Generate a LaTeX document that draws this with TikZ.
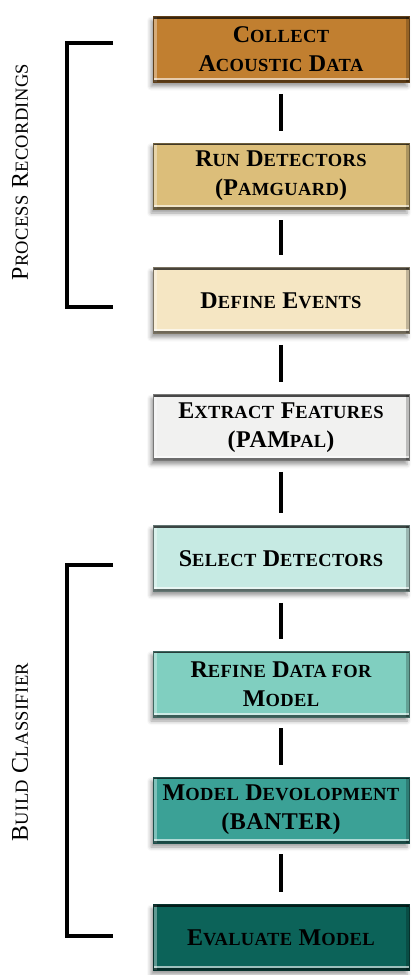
\documentclass[tikz,border=0pt]{standalone}
\usepackage{fontspec}
\setmainfont{Liberation Serif}[LetterSpace=2]
\usetikzlibrary{shadows.blur}

% step colours, top to bottom
\definecolor{cCollect}{HTML}{C17F30}
\definecolor{cRun}{HTML}{DCBE7A}
\definecolor{cDefine}{HTML}{F5E6C3}
\definecolor{cExtract}{HTML}{F1F1F0}
\definecolor{cSelect}{HTML}{C6EAE3}
\definecolor{cRefine}{HTML}{80CFC0}
\definecolor{cModel}{HTML}{3BA196}
\definecolor{cEvaluate}{HTML}{0C6359}

\newcommand\boxfont{\fontsize{24}{29}\selectfont}
\newcommand\smc[1]{{\fontsize{18.5}{29}\selectfont #1}}

\tikzset{
  stepbox/.style={
    rectangle, minimum width=256pt, minimum height=66pt, inner sep=0pt,
    fill=#1, draw=#1!50!black, line width=0.8pt,
    blur shadow={shadow xshift=-2pt, shadow yshift=-4pt, shadow blur radius=4pt},
    align=center, font=\boxfont\bfseries, text=black,
    path picture={
      \fill[white,opacity=0.35] (path picture bounding box.north west)
        rectangle ([xshift=4pt]path picture bounding box.south west);
      \fill[black,opacity=0.22] (path picture bounding box.north east)
        rectangle ([xshift=-3pt]path picture bounding box.south east);
      \fill[black,opacity=0.7] (path picture bounding box.north west)
        rectangle ([yshift=-2pt]path picture bounding box.north east);
      \fill[black,opacity=0.55] ([yshift=2.5pt]path picture bounding box.south west)
        rectangle (path picture bounding box.south east);
      \fill[white,opacity=0.6] ([yshift=2.5pt]path picture bounding box.south west)
        rectangle ([yshift=4.5pt]path picture bounding box.south east);
    }},
  link/.style={line width=4pt, shorten <=11pt, shorten >=12pt},
  bracket/.style={line width=3.5pt},
  grouplabel/.style={rotate=90, font=\boxfont, inner sep=0pt}
}

\begin{document}
\begin{tikzpicture}[x=1pt,y=-1pt]
  \useasboundingbox (0,0) rectangle (412,975);

  % workflow steps
  \node[stepbox=cCollect]  (collect)  at (281,49.5)  {C\smc{OLLECT}\\A\smc{COUSTIC} D\smc{ATA}};
  \node[stepbox=cRun]      (run)      at (281,176)   {R\smc{UN} D\smc{ETECTORS}\\(P\smc{AMGUARD})};
  \node[stepbox=cDefine]   (define)   at (281,300.5) {D\smc{EFINE} E\smc{VENTS}};
  \node[stepbox=cExtract]  (extract)  at (281,427.5) {E\smc{XTRACT} F\smc{EATURES}\\(PAM\smc{PAL})};
  \node[stepbox=cSelect]   (select)   at (281,558.5) {S\smc{ELECT} D\smc{ETECTORS}};
  \node[stepbox=cRefine]   (refine)   at (281,684)   {R\smc{EFINE} D\smc{ATA FOR}\\M\smc{ODEL}};
  \node[stepbox=cModel]    (model)    at (281,810)   {M\smc{ODEL} D\smc{EVOLOPMENT}\\(BANTER)};
  \node[stepbox=cEvaluate] (evaluate) at (281,937.5) {E\smc{VALUATE} M\smc{ODEL}};

  % links between consecutive steps
  \foreach \a/\b in {collect/run, run/define, define/extract, extract/select,
                     select/refine, refine/model, model/evaluate}
    \draw[link] (\a) -- (\b);

  % group brackets
  \coordinate (prTop) at (113,43);
  \coordinate (prBot) at (113,307);
  \draw[bracket] (prTop) -- (67,43) -- (67,307) -- (prBot);
  \node[grouplabel] (prLabel) at (20,172) {P\smc{ROCESS} R\smc{ECORDINGS}};

  \coordinate (bcTop) at (113,565);
  \coordinate (bcBot) at (113,936);
  \draw[bracket] (bcTop) -- (67,565) -- (67,936) -- (bcBot);
  \node[grouplabel] (bcLabel) at (20,752) {B\smc{UILD} C\smc{LASSIFIER}};
\end{tikzpicture}
\end{document}
